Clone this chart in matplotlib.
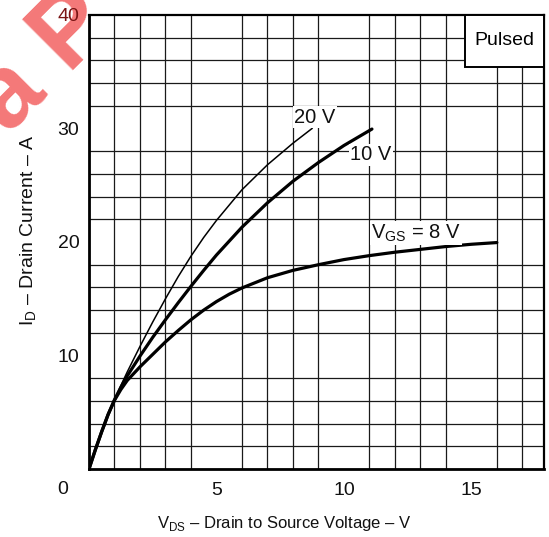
import matplotlib
matplotlib.use('Agg')
import matplotlib.pyplot as plt
from matplotlib.patches import Rectangle

plt.rcParams['font.family'] = ['Liberation Sans', 'DejaVu Sans']
plt.rcParams['mathtext.fontset'] = 'custom'
plt.rcParams['mathtext.rm'] = 'Liberation Sans'

# drain current curves (VDS in V, ID in A)
vds_20 = [0, 0.25, 0.5, 0.75, 1.0, 1.25, 1.5, 2.0, 2.5, 3.0, 3.5, 4.0, 4.5, 5.0, 6.0, 7.0, 8.0, 8.75]
id_20 = [0, 1.7, 3.3, 4.8, 6.1, 7.35, 8.55, 10.8, 12.95, 15.0, 16.95, 18.75, 20.4, 21.9, 24.6, 26.8, 28.7, 30.0]

vds_10 = [0, 0.25, 0.5, 0.75, 1.0, 1.25, 1.5, 2.0, 2.5, 3.0, 3.5, 4.0, 4.5, 5.0, 6.0, 7.0, 8.0, 9.0, 10.0, 11.1]
id_10 = [0, 1.7, 3.3, 4.8, 6.1, 7.2, 8.2, 9.95, 11.6, 13.15, 14.65, 16.1, 17.5, 18.85, 21.3, 23.45, 25.35, 27.0, 28.5, 29.95]

vds_8 = [0, 0.25, 0.5, 0.75, 1.0, 1.25, 1.5, 2.0, 2.5, 3.0, 3.5, 4.0, 4.5, 5.0, 5.5, 6.0, 7.0, 8.0, 9.0,
         10.0, 11.0, 12.0, 13.0, 14.0, 15.0, 16.0]
id_8 = [0, 1.7, 3.3, 4.8, 6.05, 7.0, 7.8, 9.0, 10.1, 11.2, 12.2, 13.15, 14.0, 14.75, 15.4, 15.95,
        16.85, 17.5, 18.0, 18.45, 18.8, 19.1, 19.35, 19.6, 19.8, 19.95]

x_ticks = [5, 10, 15]
y_ticks = [10, 20, 30, 40]

fig = plt.figure(figsize=(5.49, 5.37), dpi=100)

# red watermark in the top-left corner (cut off like in the scan)
fig.text(0.08, 0.885, 'a P', rotation=45, fontsize=74, fontweight='bold',
         color='#f47878', ha='center', va='center', zorder=-1)

ax = fig.add_axes([0.1621, 0.1266, 0.8288, 0.8455])
ax.set_zorder(1)
ax.set_xlim(0, 17.85)
ax.set_ylim(0, 40)
ax.patch.set_alpha(0)

# grid every 1 V and 2 A
ax.set_xticks(range(0, 18), minor=True)
ax.set_yticks(range(0, 41, 2), minor=True)
ax.grid(which='minor', color='#1a1a1a', linewidth=0.9)
ax.set_xticks(x_ticks)
ax.set_yticks(y_ticks)
ax.tick_params(which='both', length=0, labelsize=14, colors='#111111')
ax.tick_params(axis='x', pad=9)
ax.tick_params(axis='y', pad=7)
ax.get_yticklabels()[-1].set_color('#7a1414')
ax.set_axisbelow(True)
for s in ax.spines.values():
    s.set_linewidth(1.6)
ax.spines['left'].set_linewidth(2.0)
ax.spines['bottom'].set_linewidth(2.0)

ax.plot(vds_20, id_20, color='black', lw=1.1, solid_joinstyle='round')
ax.plot(vds_10, id_10, color='black', lw=2.3, solid_joinstyle='round', solid_capstyle='round')
ax.plot(vds_8, id_8, color='black', lw=2.3, solid_joinstyle='round', solid_capstyle='round')

lbl = dict(fontsize=14.5, ha='center', va='center', color='#111111',
           bbox=dict(facecolor='white', edgecolor='none', pad=1.0))
ax.text(8.86, 31.0, '20 V', **lbl)
ax.text(11.06, 27.7, '10 V', **lbl)
ax.text(12.82, 20.8, r'V$_{\rm GS}$ = 8 V', **lbl)

ax.add_patch(Rectangle((0.826, 0.886), 0.174, 0.114, transform=ax.transAxes,
                       facecolor='white', edgecolor='black', lw=1.4, zorder=5))
ax.text(0.913, 0.943, 'Pulsed', transform=ax.transAxes, fontsize=14,
        ha='center', va='center', zorder=6)

ax.text(-0.057, -0.046, '0', transform=ax.transAxes, fontsize=14,
        ha='center', va='center', color='#111111')

ax.set_xlabel(r'V$_{\rm DS}$ – Drain to Source Voltage – V', fontsize=12, color='#111111')
ax.xaxis.set_label_coords(0.43, -0.119)
ax.xaxis.label.set_va('center')
ax.set_ylabel(r'I$_{\rm D}$ – Drain Current – A', fontsize=14, color='#111111')
ax.yaxis.set_label_coords(-0.132, 0.526)
ax.yaxis.label.set_va('center')

fig.savefig('out.png', dpi=100)
